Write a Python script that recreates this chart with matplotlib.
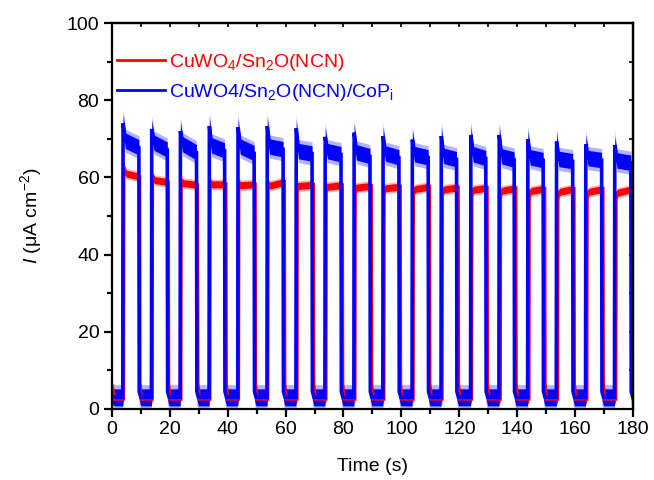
import numpy as np
import matplotlib
matplotlib.use('Agg')
import matplotlib.pyplot as plt
from matplotlib.ticker import MultipleLocator

plt.rcParams['font.family'] = ['Liberation Sans', 'DejaVu Sans']
plt.rcParams['mathtext.fontset'] = 'custom'
plt.rcParams['mathtext.rm'] = 'Liberation Sans'
plt.rcParams['mathtext.it'] = 'Liberation Sans:italic'
plt.rcParams['mathtext.default'] = 'regular'

# ---------------- data ----------------
label_red = r'CuWO$_4$/Sn$_2$O(NCN)'
label_blue = r'CuWO4/Sn$_2$O(NCN)/CoP$_\mathrm{i}$'

x_ticks = [0, 20, 40, 60, 80, 100, 120, 140, 160, 180]
y_ticks = [0, 20, 40, 60, 80, 100]

# light-on / light-off times (s)
blue_on = [3.8, 13.7, 23.6, 33.6, 43.5, 53.6, 63.6, 73.6, 83.6, 93.6,
           103.7, 113.7, 123.9, 133.7, 143.6, 153.5, 163.6, 173.6]
blue_off = [9.4, 19.2, 29.3, 39.0, 49.2, 59.2, 69.2, 79.2, 89.2, 99.2,
            109.3, 119.1, 129.2, 139.0, 149.0, 159.2, 169.2, 179.3]
red_on = [4.0, 13.9, 23.8, 33.8, 43.7, 53.8, 63.9, 73.9, 83.9, 93.9,
          104.0, 114.0, 124.2, 134.1, 144.0, 153.9, 164.0, 174.0]
red_off = [9.6, 19.5, 29.6, 39.4, 49.5, 59.6, 69.6, 79.6, 89.6, 99.6,
           109.7, 119.6, 129.6, 139.5, 149.5, 159.6, 169.6, 179.6]

# photocurrent (uA cm^-2) per light-on period: initial spike, plateau, value before off
blue_spike = [74.0, 72.5, 72.0, 73.3, 73.0, 73.3, 72.7, 70.5, 71.6, 70.7,
              69.8, 70.7, 71.0, 71.0, 69.9, 69.3, 68.6, 68.4]
blue_mid = [69.5, 69.0, 68.6, 68.3, 68.0, 68.0, 66.8, 66.8, 66.5, 66.2,
            66.0, 65.6, 66.0, 65.5, 65.2, 64.8, 65.0, 64.4]
blue_end = [67.8, 67.2, 66.5, 67.0, 66.3, 67.3, 66.2, 66.0, 65.5, 65.2,
            65.2, 64.7, 65.0, 64.6, 64.5, 64.2, 64.5, 63.8]
red_spike = [62.5, 60.2, 59.0, 58.6, 58.4, 58.0, 57.6, 57.2, 57.0, 56.8,
             56.5, 56.3, 56.2, 56.0, 55.8, 55.5, 55.5, 55.4]
red_mid = [61.0, 59.3, 58.5, 58.2, 58.0, 57.9, 57.8, 57.6, 57.4, 57.2,
           57.0, 56.9, 56.8, 56.6, 56.5, 56.3, 56.3, 56.1]
red_end = [60.2, 58.8, 58.1, 58.2, 58.2, 58.8, 58.1, 58.0, 57.8, 57.6,
           57.6, 57.4, 57.3, 57.2, 57.1, 57.0, 57.0, 56.9]

# dark-current levels
blue_start, blue_dark, blue_tail = 3.5, 3.0, 4.5
red_start, red_dark, red_tail = 6.0, 2.6, 6.5
# half-width of the noise band (light, dark)
blue_noise = (2.0, 2.2)
red_noise = (0.9, 1.0)


def build(on, off, spike, mid, end, start, dark, tail, noise):
    xs, ys, amp = [0.0], [start], [noise[1]]
    xs.append(1.0); ys.append(dark); amp.append(noise[1])
    for k in range(len(on)):
        xs += [on[k] - 0.02, on[k] + 0.08, on[k] + 0.9, off[k] - 0.06]
        ys += [dark, spike[k], mid[k], end[k]]
        amp += [noise[1], noise[0] * 1.2, noise[0], noise[0]]
        xs += [off[k] + 0.06, off[k] + 0.6]
        ys += [tail, dark]
        amp += [noise[1], noise[1]]
    return np.array(xs), np.array(ys), np.array(amp)


fig = plt.figure(figsize=(6.54, 4.80), dpi=100)
ax = fig.add_axes([0.171, 0.148, 0.797, 0.804])

for (on, off, sp, md, en, st, dk, tl, nz, col, lab) in [
        (red_on, red_off, red_spike, red_mid, red_end, red_start, red_dark,
         red_tail, red_noise, '#ff0000', label_red),
        (blue_on, blue_off, blue_spike, blue_mid, blue_end, blue_start,
         blue_dark, blue_tail, blue_noise, '#0000ff', label_blue)]:
    x, y, a = build(on, off, sp, md, en, st, dk, tl, nz)
    ax.fill_between(x, y - 1.5 * a, y + 1.5 * a, color=col, alpha=0.3, lw=0)
    ax.fill_between(x, y - a, y + a, color=col, lw=0)
    ax.plot(x, y, color=col, lw=2.6, label=lab, solid_joinstyle='miter')

ax.set_xlim(0, 180)
ax.set_ylim(0, 100)
ax.set_xticks(x_ticks)
ax.set_yticks(y_ticks)
ax.xaxis.set_minor_locator(MultipleLocator(10))
ax.yaxis.set_minor_locator(MultipleLocator(10))

for s in ax.spines.values():
    s.set_linewidth(1.6)
ax.tick_params(axis='both', which='major', direction='out', length=6,
               width=1.6, labelsize=14, pad=3)
ax.tick_params(axis='both', which='minor', direction='out', length=3.5,
               width=1.6)
ax.tick_params(which='both', top=False, right=False)
axt = ax.secondary_xaxis('top')
axt.set_xticks(x_ticks)
axt.xaxis.set_minor_locator(MultipleLocator(10))
axt.tick_params(which='both', direction='in', length=3, width=1.2,
                labeltop=False)
axr = ax.secondary_yaxis('right')
axr.set_yticks(y_ticks)
axr.yaxis.set_minor_locator(MultipleLocator(10))
axr.tick_params(which='both', direction='in', length=3, width=1.2,
                labelright=False)
for s in list(axt.spines.values()) + list(axr.spines.values()):
    s.set_linewidth(1.6)

ax.set_xlabel('Time (s)', fontsize=14, labelpad=14)
ax.set_ylabel(r'$\it{I}$ (μA cm$^{-2}$)', fontsize=14, labelpad=16)

leg = ax.legend(loc='upper left', bbox_to_anchor=(-0.013, 0.955), frameon=False,
                fontsize=14, handlelength=2.5, handletextpad=0.2,
                labelspacing=0.45, borderaxespad=0.2, labelcolor='linecolor')
for h in leg.get_lines():
    h.set_linewidth(2.0)

fig.savefig('out.png', dpi=100)
